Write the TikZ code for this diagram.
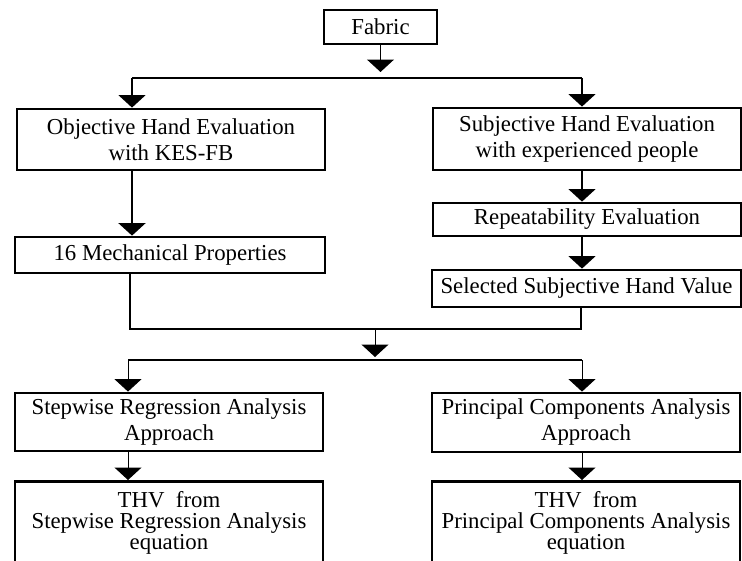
\documentclass[tikz,border=0pt]{standalone}
\usepackage{fontspec}
\setmainfont{Liberation Serif}
\usetikzlibrary{arrows.meta}
\begin{document}
\begin{tikzpicture}[x=1pt,y=-1pt,
  box/.style={draw, line width=2.8pt, align=center, inner sep=0pt,
    font=\fontsize{22.8}{26}\selectfont},
  arr/.style={line width=1.3pt, -{Triangle[width=27pt,length=12.5pt]}},
  tarr/.style={line width=2.2pt, -{Triangle[width=27pt,length=12.5pt]}},
  hline/.style={line width=2.8pt}]
\useasboundingbox (0,0) rectangle (742,560);
\clip (0,0) rectangle (742,560);

% boxes
\node[box, minimum width=113pt, minimum height=34pt] (fabric) at (380.5,27) {Fabric};
\node[box, minimum width=308pt, minimum height=61pt] (obj) at (171,139.5)
  {Objective Hand Evaluation\\with KES-FB};
\node[box, minimum width=310pt, minimum height=36pt] (mech) at (170,255)
  {16 Mechanical Properties};
\node[box, minimum width=308pt, minimum height=62pt] (subj) at (587,139)
  {Subjective Hand Evaluation\\with experienced people};
\node[box, minimum width=308pt, minimum height=33pt] (rep) at (587,219.5)
  {Repeatability Evaluation};
\node[box, minimum width=309pt, minimum height=37pt] (sel) at (586.5,288.5)
  {Selected Subjective Hand Value};
\node[box, minimum width=308pt, minimum height=58pt] (step) at (169,422)
  {Stepwise Regression Analysis\\Approach};
\node[box, minimum width=308pt, minimum height=59pt] (pca) at (586,422.5)
  {Principal Components Analysis\\Approach};
\node[box, minimum width=308pt, minimum height=82pt, anchor=north,
  font=\fontsize{22.8}{21}\selectfont] (thvl) at (169,480)
  {\rule{0pt}{17pt}THV\ \ from\\Stepwise Regression Analysis\\equation};
\node[box, minimum width=308pt, minimum height=82pt, anchor=north,
  font=\fontsize{22.8}{21}\selectfont] (thvr) at (586,480)
  {\rule{0pt}{17pt}THV\ \ from\\Principal Components Analysis\\equation};

% coordinates
\coordinate (fa) at (380.5,72);
\coordinate (tl) at (132,78);
\coordinate (tr) at (582,78);
\coordinate (ml) at (130,329);
\coordinate (mr) at (581,329);
\coordinate (mc) at (375,329);
\coordinate (mca) at (375,357);
\coordinate (sl) at (128,360);
\coordinate (sr) at (582,360);

% top split
\draw[arr] (fabric.south) -- (fa);
\draw[hline] (tl) -- (tr);
\draw[arr] (tl) -- (tl |- obj.north);
\draw[arr] (tr) -- (tr |- subj.north);

% left column
\draw[tarr] (obj.south -| tl) -- (mech.north -| tl);

% right column
\draw[arr] (subj.south -| tr) -- (rep.north -| tr);
\draw[arr] (rep.south -| tr) -- (sel.north -| tr);

% merge
\draw[hline, line join=miter] (mech.south -| ml) -- (ml) -- (mr) -- (sel.south -| mr);
\draw[arr, line width=1pt] (mc) -- (mca);
\draw[hline] (sl) -- (sr);
\draw[arr, line width=1pt] (sl) -- (step.north -| sl);
\draw[arr, line width=1pt] (sr) -- (pca.north -| sr);

% bottom
\draw[arr, line width=1pt] (step.south -| sl) -- (thvl.north -| sl);
\draw[arr, line width=1pt] (pca.south -| sr) -- (thvr.north -| sr);
\end{tikzpicture}
\end{document}
